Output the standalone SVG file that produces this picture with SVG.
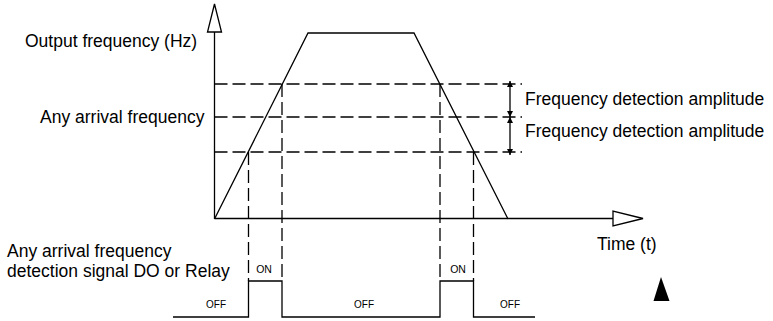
<svg xmlns="http://www.w3.org/2000/svg" width="773" height="321" viewBox="0 0 773 321">
<defs>
<marker id="dimArrow" viewBox="0 0 8 8" refX="8" refY="4" markerWidth="6" markerHeight="6" markerUnits="userSpaceOnUse" orient="auto-start-reverse">
<path d="M0,0 L8,4 L0,8 Z" fill="#000"/>
</marker>
</defs>
<style>
.ln{fill:none;stroke:#000;stroke-width:1.3}
.dash{fill:none;stroke:#000;stroke-width:1.3;stroke-dasharray:13 5}
.big{font-family:"Liberation Sans",Arial,sans-serif;font-size:17.5px;fill:#000}
.small{font-family:"Liberation Sans",Arial,sans-serif;font-size:10px;fill:#000;text-anchor:middle}
.open{fill:#fff;stroke:#000;stroke-width:1.3}
</style>
<rect width="773" height="321" fill="#fff"/>
<g id="connectors">
<g id="axes">
<line class="ln" x1="214.5" y1="219" x2="214.5" y2="32"/>
<polygon id="y-arrow" class="open" points="214.5,4 207.5,32 221.5,32"/>
<line class="ln" x1="214.5" y1="218.5" x2="613" y2="218.5"/>
<polygon id="x-arrow" class="open" points="643,218.5 613,211 613,226"/>
</g>
<g id="guides">
<line class="dash" x1="214.5" y1="84" x2="522" y2="84"/>
<line class="dash" x1="214.5" y1="117" x2="522" y2="117"/>
<line class="dash" x1="214.5" y1="152" x2="522" y2="152"/>
<line class="dash" x1="248.5" y1="152" x2="248.5" y2="281"/>
<line class="dash" x1="282" y1="84" x2="282" y2="281"/>
<line class="dash" x1="440" y1="84" x2="440" y2="281"/>
<line class="dash" x1="473.5" y1="152" x2="473.5" y2="281"/>
</g>
<g id="dimensions">
<line class="ln" x1="510" y1="100" x2="510" y2="81" marker-end="url(#dimArrow)"/>
<line class="ln" x1="510" y1="100" x2="510" y2="117" marker-end="url(#dimArrow)"/>
<line class="ln" x1="510" y1="134" x2="510" y2="117" marker-end="url(#dimArrow)"/>
<line class="ln" x1="510" y1="134" x2="510" y2="155" marker-end="url(#dimArrow)"/>
</g>
<polyline id="frequency-curve" class="ln" points="214.5,219 308,33 414,33 508,219"/>
<polyline id="pulse" class="ln" points="173,317 248.5,317 248.5,281 282,281 282,317 440,317 440,281 473.5,281 473.5,317 535,317"/>
</g>
<g id="labels">
<text class="big" x="25" y="47">Output frequency (Hz)</text>
<text class="big" x="40" y="123">Any arrival frequency</text>
<text class="big" x="525" y="105">Frequency detection amplitude</text>
<text class="big" x="525" y="137">Frequency detection amplitude</text>
<text class="big" x="597" y="250">Time (t)</text>
<text class="big" x="7" y="257">Any arrival frequency</text>
<text class="big" x="7" y="277">detection signal DO or Relay</text>
<text class="small" x="264" y="273" style="font-size:10.5px">ON</text>
<text class="small" x="458" y="273" style="font-size:10.5px">ON</text>
<text class="small" x="216" y="308">OFF</text>
<text class="small" x="364" y="308">OFF</text>
<text class="small" x="510" y="308">OFF</text>
</g>
<polygon id="marker-triangle" points="661,277 653.5,301 669.5,301" fill="#000"/>
</svg>
